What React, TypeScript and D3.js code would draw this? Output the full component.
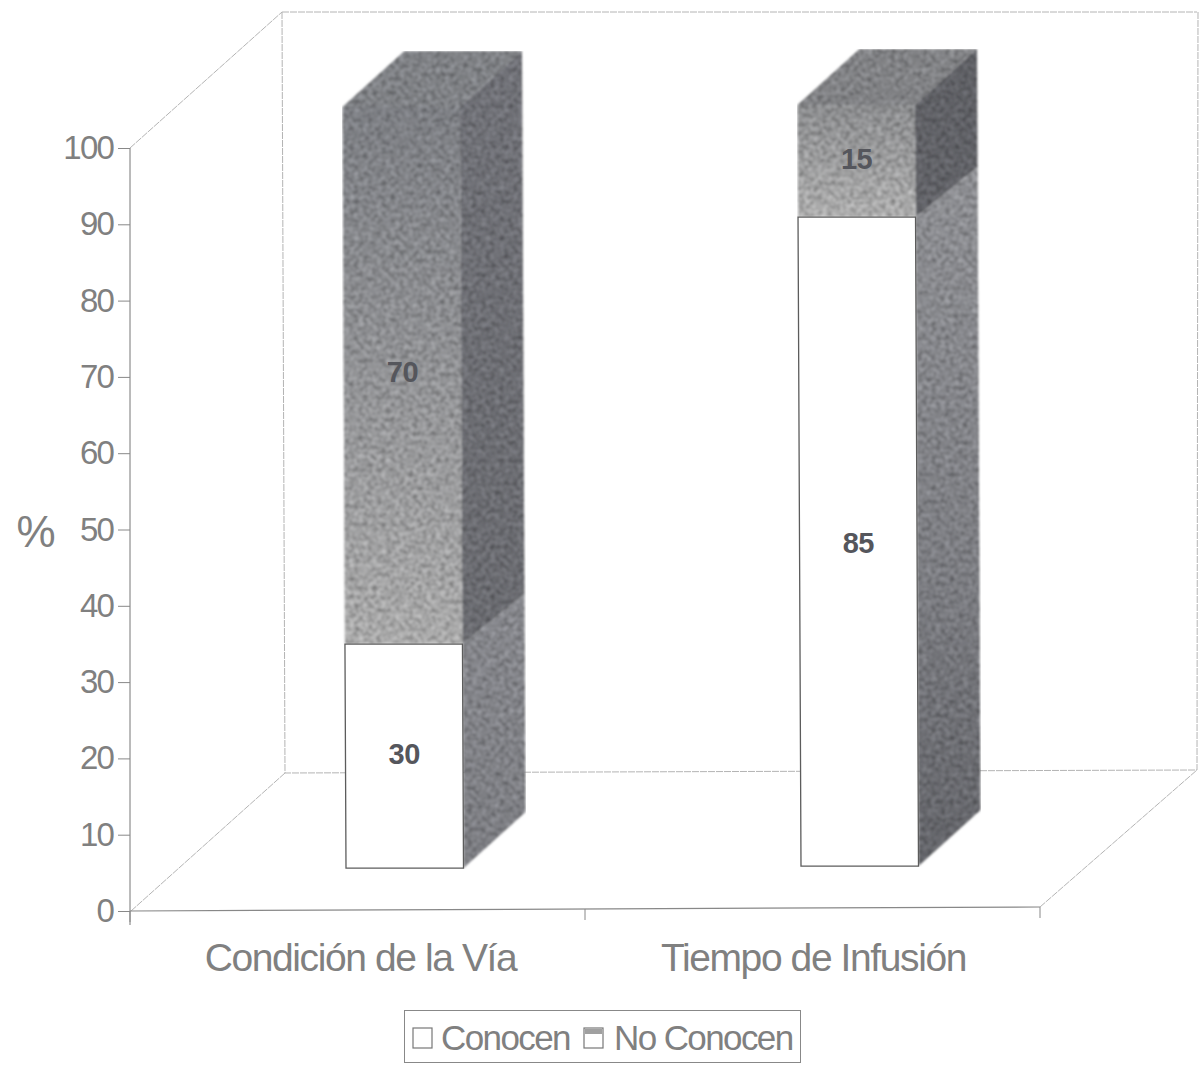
import { useEffect, useRef } from "react"
import * as d3 from "d3"

const categories = ["Condición de la Vía", "Tiempo de Infusión"]
const conocen = [30, 85]
const noConocen = [70, 15]
const yTicks = [0, 10, 20, 30, 40, 50, 60, 70, 80, 90, 100]
const legendLabels = ["Conocen", "No Conocen"]

const FONT = "'Liberation Sans', Arial, sans-serif"
const TEXT = "#808080"

export default function App() {
  const svgRef = useRef<SVGSVGElement>(null)

  useEffect(() => {
    if (!svgRef.current) return
    const svg = d3.select(svgRef.current)
    svg.selectAll("*").remove()

    const defs = svg.append("defs")

    // scanned paper grain for the printed greys
    const grain = defs.append("filter").attr("id", "grain").attr("x", 0).attr("y", 0).attr("width", 1).attr("height", 1)
    grain.append("feTurbulence").attr("type", "fractalNoise").attr("baseFrequency", 0.22).attr("numOctaves", 4).attr("seed", 7).attr("result", "n")
    grain
      .append("feColorMatrix")
      .attr("in", "n")
      .attr("type", "matrix")
      .attr("values", "0.75 0 0 0 0.125  0.75 0 0 0 0.125  0.75 0 0 0 0.125  0 0 0 0 1")
      .attr("result", "g")
    grain.append("feComposite").attr("in", "g").attr("in2", "SourceAlpha").attr("operator", "in").attr("result", "gc")
    grain.append("feBlend").attr("in", "gc").attr("in2", "SourceGraphic").attr("mode", "overlay")
    grain.append("feGaussianBlur").attr("stdDeviation", 0.8)

    const grad = (id: string, y1: number, y2: number, stops: [number, string][]) => {
      const g = defs
        .append("linearGradient")
        .attr("id", id)
        .attr("gradientUnits", "userSpaceOnUse")
        .attr("x1", 0)
        .attr("x2", 0)
        .attr("y1", y1)
        .attr("y2", y2)
      stops.forEach(([o, c]) => g.append("stop").attr("offset", o).attr("stop-color", c))
      return `url(#${id})`
    }

    const frontFill = [
      grad("f0", 107, 644, [[0, "#7c7e83"], [0.45, "#8f9093"], [1, "#a9a9a9"]]),
      grad("f1", 105, 217, [[0, "#8b8c8e"], [1, "#acacac"]]),
    ]
    const sideTop = [
      grad("s0", 52, 640, [[0, "#707177"], [1, "#6a6b70"]]),
      grad("s1", 50, 220, [[0, "#5f6065"], [1, "#626368"]]),
    ]
    const sideBottom = [
      grad("b0", 590, 868, [[0, "#87888d"], [1, "#7b7c81"]]),
      grad("b1", 170, 866, [[0, "#8e8f93"], [0.6, "#7b7c81"], [1, "#626368"]]),
    ]
    const topFill = ["#7f8185", "#818285"]

    // value axis, drawn at the front-left corner
    const y = d3.scaleLinear().domain([0, 100]).range([911, 148])
    const x = d3.scaleBand<string>().domain(categories).range([130, 1040])

    // bars stand on the floor, further back than the axis plane; the scan is a bit warped
    const barY = d3.scaleLinear().domain([0, 30, 85, 100]).range([869, 645, 220, 108])
    const lean = d3.scaleLinear().domain([0, 100]).range([0, -3.5])
    const barW = 117.5
    const depth = { x: 62, y: -56 }
    const splitLift = 6
    const barLeft = (i: number) => (x(categories[i]) ?? 0) + x.bandwidth() / 2 - 11.5
    const tilt = (px: number) => -0.0044 * (px - 130)

    const corner = (i: number, v: number, across: number, back: number): [number, number] => {
      const px = barLeft(i) + lean(v) + across * barW + back * depth.x
      return [px, barY(v) + tilt(barLeft(i)) + back * depth.y]
    }
    const lifted = (p: [number, number]): [number, number] => [p[0], p[1] + splitLift]
    const poly = d3.line()

    // walls and floor
    const wall = svg.append("g").attr("fill", "none").attr("stroke", "#b4b4b4").attr("stroke-width", 1)
    const walls: [number, number][][] = [
      [[282, 12], [1197, 12]],
      [[282, 12], [285, 773], [1197, 770], [1198, 12]],
      [[131, 911], [285, 773]],
      [[1040, 907], [1197, 770]],
      [[130, 148], [282, 12]],
    ]
    walls.forEach((w) => wall.append("path").attr("d", poly(w)).attr("stroke-dasharray", "7,1"))

    // axes
    const yAxis = svg.append("g").attr("transform", "translate(130,0)").call(d3.axisLeft(y).tickValues(yTicks).tickSize(12).tickPadding(5))
    yAxis.selectAll("text").attr("fill", TEXT).attr("font-family", FONT).attr("font-size", 33).attr("letter-spacing", -1.8)
    yAxis.select(".domain").attr("stroke", "#777").attr("d", "M0,148V925")
    yAxis.selectAll(".tick line").attr("stroke", "#888")

    svg
      .append("path")
      .attr("d", poly([[130, 911], [1040, 907]]))
      .attr("stroke", "#888")
      .attr("stroke-width", 1.2)
      .attr("fill", "none")

    const xTickPos = [0, 1].map((i) => x(categories[i]) ?? 0).concat(x.range()[1])
    xTickPos.forEach((t) =>
      svg
        .append("line")
        .attr("x1", t)
        .attr("x2", t)
        .attr("y1", 911 + tilt(t))
        .attr("y2", 922 + tilt(t))
        .attr("stroke", "#888"),
    )

    categories.forEach((c, i) => {
      const cx = (x(c) ?? 0) + x.bandwidth() / 2 + (i === 0 ? 3 : 1)
      svg
        .append("text")
        .attr("x", cx)
        .attr("y", 971)
        .attr("text-anchor", "middle")
        .attr("fill", TEXT)
        .attr("font-family", FONT)
        .attr("font-size", 39)
        .attr("letter-spacing", -1.4)
        .text(c)
    })

    svg
      .append("text")
      .attr("x", 36)
      .attr("y", 547)
      .attr("text-anchor", "middle")
      .attr("fill", TEXT)
      .attr("font-family", FONT)
      .attr("font-size", 44)
      .text("%")

    // bars
    categories.forEach((_, i) => {
      const g = svg.append("g")
      const split = conocen[i]
      const total = split + noConocen[i]
      const shaded = g.append("g").attr("filter", "url(#grain)")

      shaded
        .append("path")
        .attr("d", poly([corner(i, total, 0, 0), corner(i, total, 0, 1), corner(i, total, 1, 1), corner(i, total, 1, 0)]) + "Z")
        .attr("fill", topFill[i])
      shaded
        .append("path")
        .attr("d", poly([corner(i, split, 1, 0), lifted(corner(i, split, 1, 1)), corner(i, total, 1, 1), corner(i, total, 1, 0)]) + "Z")
        .attr("fill", sideTop[i])
      shaded
        .append("path")
        .attr("d", poly([corner(i, 0, 1, 0), corner(i, 0, 1, 1), lifted(corner(i, split, 1, 1)), corner(i, split, 1, 0)]) + "Z")
        .attr("fill", sideBottom[i])
      shaded
        .append("path")
        .attr("d", poly([corner(i, split, 0, 0), corner(i, split, 1, 0), corner(i, total, 1, 0), corner(i, total, 0, 0)]) + "Z")
        .attr("fill", frontFill[i])

      g.append("path")
        .attr("d", poly([corner(i, 0, 0, 0), corner(i, 0, 1, 0), corner(i, split, 1, 0), corner(i, split, 0, 0)]) + "Z")
        .attr("fill", "#fff")
        .attr("stroke", "#5c5c5c")
        .attr("stroke-width", 1.3)

      const labels: [number, number][] = [
        [split / 2, split],
        [split + noConocen[i] / 2, noConocen[i]],
      ]
      labels.forEach(([mid, value]) => {
        const [lx, ly] = corner(i, mid, 0.5, 0)
        g.append("text")
          .attr("x", lx)
          .attr("y", ly + 8)
          .attr("text-anchor", "middle")
          .attr("fill", "#55565c")
          .attr("font-family", FONT)
          .attr("font-weight", 700)
          .attr("font-size", 29)
          .attr("letter-spacing", -0.5)
          .text(value)
      })
    })

    // legend
    const legend = svg.append("g")
    legend.append("rect").attr("x", 404.5).attr("y", 1010.5).attr("width", 396).attr("height", 52).attr("fill", "#fff").attr("stroke", "#888")
    const swatchX = [413, 584]
    const textX = [441, 614]
    legendLabels.forEach((l, i) => {
      legend.append("rect").attr("x", swatchX[i]).attr("y", 1028).attr("width", 19).attr("height", 20).attr("fill", "#fff").attr("stroke", "#777").attr("stroke-width", 1.2)
      if (i === 1) legend.append("rect").attr("x", swatchX[i] + 1).attr("y", 1029).attr("width", 17).attr("height", 5).attr("fill", "#a0a0a0")
      legend
        .append("text")
        .attr("x", textX[i])
        .attr("y", 1050)
        .attr("fill", TEXT)
        .attr("font-family", FONT)
        .attr("font-size", 35)
        .attr("letter-spacing", -1.6)
        .text(l)
    })
  }, [])

  return <svg ref={svgRef} width={1201} height={1068} style={{ position: "absolute", left: 0, top: 0, background: "#fff" }} />
}
